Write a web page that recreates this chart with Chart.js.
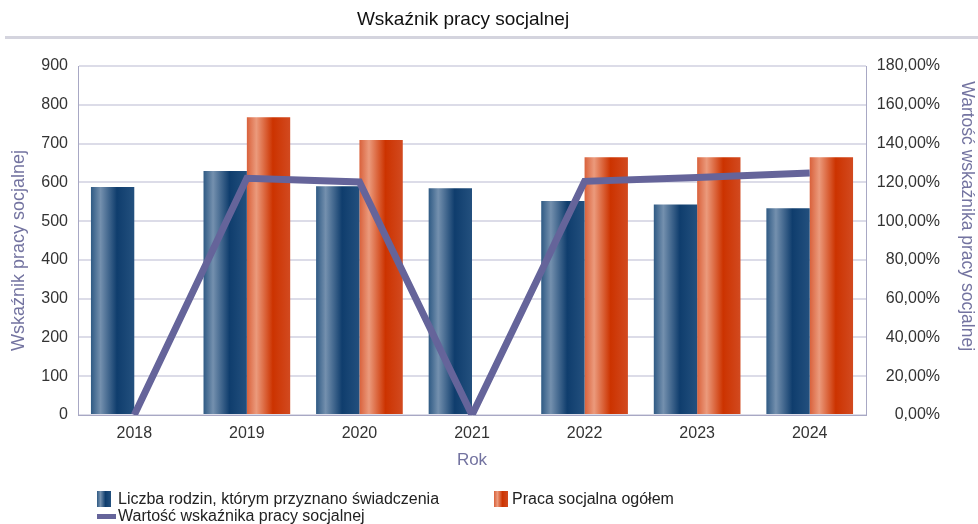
<!DOCTYPE html>
<html>
<head>
<meta charset="utf-8">
<script src="https://cdn.jsdelivr.net/npm/chart.js@4/dist/chart.umd.min.js"></script>
<style>
  html, body { margin: 0; padding: 0; background: #fff; }
  #wrap { position: relative; width: 978px; height: 524px; }
  .lg { position: absolute; font-family: "Liberation Sans", Arial, sans-serif; font-size: 16px; line-height: 16px; color: #222; white-space: nowrap; }
  .mk { position: absolute; }
</style>
</head>
<body>
<div id="wrap">
  <canvas id="c" width="978" height="524"></canvas>
  <div class="mk" style="left:97px;top:491px;width:14px;height:16px;background:linear-gradient(90deg,#2f5a84,#7490ae 25%,#0f3d6d 60%,#23507e)"></div>
  <div class="lg" style="left:118px;top:491px">Liczba rodzin, którym przyznano świadczenia</div>
  <div class="mk" style="left:494px;top:491px;width:14px;height:16px;background:linear-gradient(90deg,#d9613b,#eb9a7c 25%,#cc3300 60%,#d24a20)"></div>
  <div class="lg" style="left:512px;top:491px">Praca socjalna ogółem</div>
  <div class="mk" style="left:97px;top:514px;width:19px;height:5px;background:#65649a"></div>
  <div class="lg" style="left:118px;top:508px">Wartość wskaźnika pracy socjalnej</div>
</div>
<script>
const categories = ['2018', '2019', '2020', '2021', '2022', '2023', '2024'];
const rodziny = [588, 629, 590, 585, 552, 543, 533];
const pracaSocjalna = [null, 768, 709, null, 665, 665, 665];
const wskaznik = [0, 122.1, 120.2, 0, 120.5, 122.5, 124.8];
const leftTicksMax = 900;
const rightTicksMax = 180;

const seriesNames = ['Liczba rodzin, którym przyznano świadczenia', 'Praca socjalna ogółem', 'Wartość wskaźnika pracy socjalnej'];

const gradStops = {
  blue: [[0, '#2f5a84'], [0.22, '#7490ae'], [0.6, '#0f3d6d'], [1, '#23507e']],
  orange: [[0, '#d9613b'], [0.22, '#eb9a7c'], [0.6, '#cc3300'], [1, '#d24a20']]
};

const gradientBars = {
  id: 'gradientBars',
  beforeDatasetDraw(chart, args) {
    const ds = chart.data.datasets[args.index];
    if (!ds.gradKey) return;
    const ctx = chart.ctx;
    args.meta.data.forEach(el => {
      if (!el || isNaN(el.x)) return;
      const w = el.width;
      const g = ctx.createLinearGradient(el.x - w / 2, 0, el.x + w / 2, 0);
      gradStops[ds.gradKey].forEach(s => g.addColorStop(s[0], s[1]));
      el.options = Object.assign({}, el.options, { backgroundColor: g });
    });
  }
};

const decor = {
  id: 'decor',
  afterDraw(chart) {
    const ctx = chart.ctx;
    ctx.save();
    ctx.fillStyle = '#d4d4de';
    ctx.fillRect(5, 36, 973, 3);
    ctx.fillStyle = '#111';
    ctx.font = '19px "Liberation Sans", Arial, sans-serif';
    ctx.textAlign = 'center';
    ctx.textBaseline = 'alphabetic';
    ctx.fillText('Wskaźnik pracy socjalnej', 463, 25);
    ctx.restore();
  }
};

const tickFont = { size: 16, family: 'Liberation Sans, Arial, sans-serif' };
const axisColor = '#a8a8c4';
const titleColor = '#7373a0';

new Chart(document.getElementById('c'), {
  data: {
    labels: categories,
    datasets: [
      { type: 'line', label: seriesNames[2], data: wskaznik, yAxisID: 'y1', borderColor: '#65649a', backgroundColor: '#65649a', borderWidth: 7, pointRadius: 0, tension: 0, order: 0, borderJoinStyle: 'miter', borderCapStyle: 'butt' },
      { type: 'bar', label: seriesNames[0], data: rodziny, yAxisID: 'y', backgroundColor: '#0f3d6d', gradKey: 'blue', order: 1, categoryPercentage: 0.77, barPercentage: 1.0 },
      { type: 'bar', label: seriesNames[1], data: pracaSocjalna, yAxisID: 'y', backgroundColor: '#cc3300', gradKey: 'orange', order: 1, categoryPercentage: 0.77, barPercentage: 1.0 }
    ]
  },
  options: {
    responsive: false,
    animation: false,
    layout: { padding: { top: 66, bottom: 49, left: 0, right: 0 } },
    plugins: {
      legend: { display: false },
      title: { display: false },
      tooltip: { enabled: false }
    },
    scales: {
      x: {
        grid: { display: false, drawTicks: false },
        border: { display: true, color: axisColor, width: 1 },
        ticks: { color: '#333', font: tickFont, padding: 9 },
        title: { display: true, text: 'Rok', color: titleColor, font: { size: 17, family: 'Liberation Sans, Arial, sans-serif' }, padding: { top: 6 } },
        afterFit(s) { s.height = 60; }
      },
      y: {
        position: 'left',
        min: 0, max: leftTicksMax,
        ticks: { stepSize: 100, color: '#333', font: tickFont, padding: 10 },
        grid: { color: '#dcdce8', lineWidth: 2, drawTicks: false },
        border: { display: true, color: axisColor, width: 1 },
        title: { display: true, text: 'Wskaźnik pracy socjalnej\u00a0\u00a0\u00a0\u00a0', color: titleColor, font: { size: 18, family: 'Liberation Sans, Arial, sans-serif' }, padding: { top: 8, bottom: 0 } },
        afterFit(s) { s.width = 78; }
      },
      y1: {
        position: 'right',
        weight: 1,
        min: 0, max: rightTicksMax,
        ticks: { stepSize: 20, color: '#333', font: tickFont, padding: 8, crossAlign: 'far', callback: v => v.toFixed(2).replace('.', ',') + '%' },
        grid: { display: false, drawTicks: false },
        border: { display: true, color: axisColor, width: 1 },
        afterFit(s) { s.width = 74; }
      },
      y2: {
        position: 'right',
        weight: 2,
        min: 0, max: rightTicksMax,
        ticks: { display: false },
        grid: { display: false, drawTicks: false },
        border: { display: false },
        title: { display: true, text: 'Wartość wskaźnika pracy socjalnej\u00a0\u00a0\u00a0\u00a0\u00a0\u00a0\u00a0\u00a0\u00a0\u00a0', color: titleColor, font: { size: 17.5, family: 'Liberation Sans, Arial, sans-serif' }, padding: { top: 1, bottom: 0 } },
        afterFit(s) { s.width = 38; }
      }
    }
  },
  plugins: [gradientBars, decor]
});
</script>
</body>
</html>
